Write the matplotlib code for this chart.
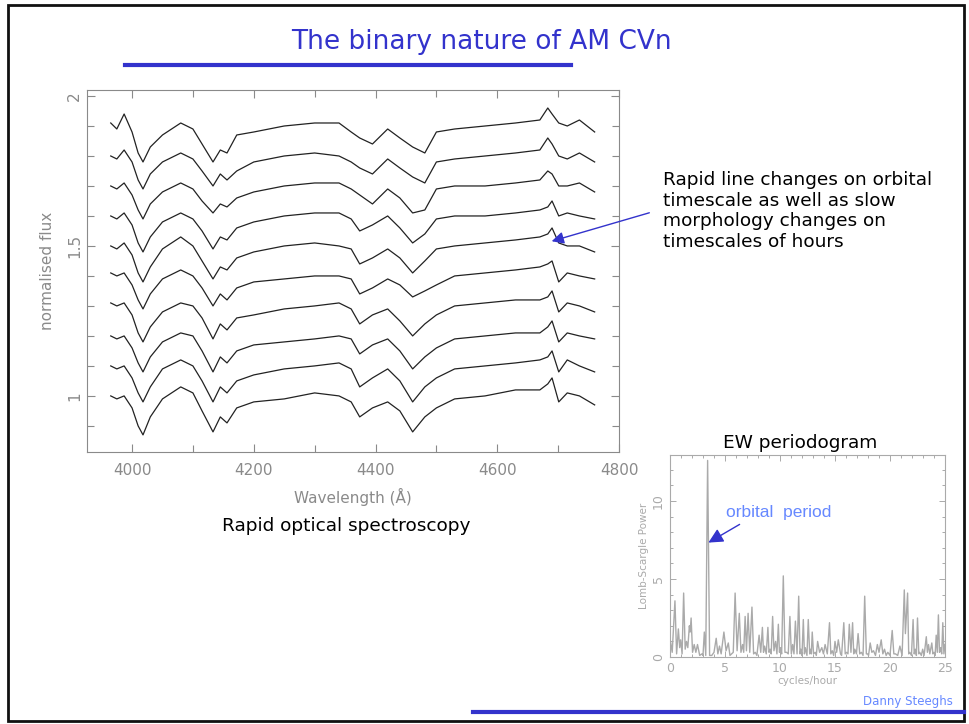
import matplotlib
matplotlib.use("Agg")
import matplotlib.pyplot as plt
from matplotlib.lines import Line2D
from matplotlib.patches import Rectangle, FancyArrowPatch
from matplotlib.ticker import MultipleLocator

W, H = 969, 724

# wavelength knots (Angstrom) shared by all spectra
wave = [3965, 3975, 3987, 4000, 4010, 4018, 4030, 4050, 4080, 4100, 4115, 4133,
        4145, 4156, 4172, 4200, 4250, 4300, 4340, 4360, 4374, 4395, 4420, 4440,
        4461, 4481, 4500, 4530, 4580, 4630, 4670, 4683, 4690, 4701, 4715, 4735, 4760]

# normalised flux, stacked spectra from bottom to top
spec_01 = [1.00, 0.99, 1.00, 0.96, 0.90, 0.87, 0.93, 0.99, 1.03, 1.01, 0.95, 0.88, 0.93,
           0.91, 0.96, 0.98, 0.99, 1.01, 1.00, 0.98, 0.93, 0.96, 0.98, 0.95, 0.88, 0.93,
           0.96, 0.99, 1.00, 1.02, 1.02, 1.04, 1.06, 0.98, 1.01, 1.00, 0.97]
spec_02 = [1.10, 1.09, 1.10, 1.06, 1.01, 0.98, 1.03, 1.09, 1.12, 1.10, 1.05, 0.98, 1.03,
           1.01, 1.05, 1.07, 1.09, 1.10, 1.11, 1.09, 1.03, 1.06, 1.09, 1.05, 0.98, 1.03,
           1.06, 1.09, 1.10, 1.11, 1.12, 1.13, 1.15, 1.08, 1.12, 1.10, 1.08]
spec_03 = [1.20, 1.19, 1.20, 1.16, 1.11, 1.08, 1.13, 1.18, 1.21, 1.20, 1.15, 1.08, 1.13,
           1.11, 1.15, 1.17, 1.18, 1.19, 1.20, 1.19, 1.14, 1.17, 1.19, 1.15, 1.09, 1.13,
           1.16, 1.19, 1.20, 1.21, 1.21, 1.23, 1.25, 1.18, 1.21, 1.20, 1.19]
spec_04 = [1.31, 1.30, 1.31, 1.27, 1.21, 1.18, 1.23, 1.28, 1.31, 1.30, 1.26, 1.19, 1.24,
           1.22, 1.26, 1.27, 1.29, 1.30, 1.31, 1.29, 1.24, 1.27, 1.29, 1.25, 1.20, 1.24,
           1.27, 1.30, 1.31, 1.32, 1.32, 1.33, 1.35, 1.28, 1.31, 1.30, 1.28]
spec_05 = [1.41, 1.40, 1.41, 1.37, 1.32, 1.29, 1.34, 1.39, 1.42, 1.40, 1.36, 1.30, 1.34,
           1.32, 1.36, 1.38, 1.39, 1.40, 1.40, 1.39, 1.34, 1.36, 1.39, 1.37, 1.33, 1.35,
           1.37, 1.40, 1.41, 1.42, 1.43, 1.44, 1.45, 1.38, 1.41, 1.40, 1.39]
spec_06 = [1.50, 1.49, 1.51, 1.47, 1.41, 1.38, 1.43, 1.49, 1.53, 1.50, 1.45, 1.39, 1.43,
           1.42, 1.46, 1.48, 1.50, 1.51, 1.50, 1.49, 1.44, 1.46, 1.49, 1.46, 1.41, 1.45,
           1.49, 1.50, 1.51, 1.52, 1.53, 1.54, 1.56, 1.51, 1.50, 1.50, 1.48]
spec_07 = [1.60, 1.59, 1.61, 1.57, 1.51, 1.48, 1.53, 1.58, 1.61, 1.59, 1.55, 1.49, 1.53,
           1.52, 1.56, 1.58, 1.60, 1.61, 1.61, 1.59, 1.55, 1.57, 1.60, 1.56, 1.51, 1.54,
           1.59, 1.60, 1.60, 1.61, 1.62, 1.63, 1.65, 1.60, 1.61, 1.60, 1.59]
spec_08 = [1.70, 1.69, 1.71, 1.67, 1.62, 1.59, 1.64, 1.68, 1.71, 1.69, 1.65, 1.61, 1.64,
           1.63, 1.66, 1.68, 1.70, 1.71, 1.71, 1.69, 1.67, 1.64, 1.69, 1.66, 1.61, 1.62,
           1.69, 1.70, 1.70, 1.71, 1.72, 1.75, 1.74, 1.70, 1.70, 1.71, 1.68]
spec_09 = [1.80, 1.79, 1.82, 1.78, 1.72, 1.69, 1.74, 1.78, 1.81, 1.79, 1.75, 1.70, 1.74,
           1.72, 1.75, 1.78, 1.80, 1.81, 1.80, 1.78, 1.76, 1.74, 1.79, 1.76, 1.73, 1.71,
           1.78, 1.79, 1.80, 1.81, 1.82, 1.86, 1.84, 1.80, 1.79, 1.81, 1.78]
spec_10 = [1.91, 1.89, 1.94, 1.88, 1.81, 1.78, 1.83, 1.87, 1.91, 1.89, 1.84, 1.78, 1.82,
           1.81, 1.87, 1.88, 1.90, 1.91, 1.91, 1.88, 1.86, 1.84, 1.89, 1.86, 1.83, 1.81,
           1.88, 1.89, 1.90, 1.91, 1.92, 1.96, 1.94, 1.91, 1.90, 1.92, 1.88]
spectra = [spec_01, spec_02, spec_03, spec_04, spec_05,
           spec_06, spec_07, spec_08, spec_09, spec_10]

# EW Lomb-Scargle periodogram
freq = [0.0, 0.2, 0.45, 0.6, 0.76, 0.88, 0.97, 1.1, 1.24, 1.38, 1.5, 1.62, 1.76, 1.83, 1.92,
        2.05, 2.2, 2.35, 2.5, 2.7, 2.9, 3.0, 3.12, 3.25, 3.42, 3.6, 3.8, 4.0, 4.2, 4.35,
        4.5, 4.65, 4.9, 5.1, 5.3, 5.45, 5.6, 5.75, 5.92, 6.1, 6.3, 6.45, 6.6, 6.7, 6.83,
        6.95, 7.1, 7.25, 7.45, 7.6, 7.75, 7.9, 8.1, 8.25, 8.4, 8.5, 8.6, 8.75, 8.9, 9.0,
        9.1, 9.2, 9.33, 9.45, 9.6, 9.72, 9.85, 9.95, 10.05, 10.15, 10.3, 10.45, 10.6,
        10.75, 10.9, 11.03, 11.15, 11.27, 11.4, 11.55, 11.7, 11.82, 11.9, 12.0, 12.12,
        12.22, 12.3, 12.45, 12.57, 12.7, 12.8, 12.85, 12.93, 13.05, 13.2, 13.3, 13.42,
        13.6, 13.8, 13.95, 14.1, 14.3, 14.5, 14.62, 14.75, 14.88, 15.0, 15.15, 15.3,
        15.5, 15.6, 15.8, 15.93, 16.06, 16.18, 16.3, 16.45, 16.6, 16.7, 16.8, 16.95,
        17.1, 17.25, 17.4, 17.55, 17.7, 17.85, 17.97, 18.05, 18.2, 18.35, 18.5, 18.68,
        18.85, 19.0, 19.2, 19.35, 19.5, 19.65, 19.8, 20.0, 20.2, 20.35, 20.5, 20.7,
        20.9, 21.1, 21.3, 21.4, 21.6, 21.7, 21.8, 21.95, 22.1, 22.2, 22.3, 22.4, 22.5,
        22.62, 22.7, 22.85, 22.97, 23.1, 23.3, 23.4, 23.5, 23.62, 23.8, 23.9, 24.0,
        24.1, 24.2, 24.3, 24.4, 24.5, 24.6, 24.7, 24.8, 24.9, 25.0]
power = [1.2, 0.3, 3.6, 0.2, 1.8, 0.6, 1.1, 0.2, 4.1, 0.5, 1.0, 0.6, 2.0, 1.6, 2.5,
         0.3, 0.8, 0.3, 0.8, 0.1, 0.2, 0.1, 1.6, 0.1, 12.6, 0.1, 0.1, 0.3, 1.2, 0.2,
         0.7, 0.2, 1.6, 0.4, 0.9, 0.1, 0.2, 0.3, 4.1, 0.4, 2.8, 0.3, 0.8, 0.3, 2.6,
         0.4, 2.8, 0.3, 3.2, 0.2, 0.3, 0.1, 1.4, 0.3, 1.9, 0.3, 0.7, 0.2, 1.9, 0.3,
         0.5, 0.2, 2.6, 0.4, 1.0, 0.2, 2.1, 0.3, 0.6, 0.2, 5.2, 0.3, 0.3,
         0.2, 2.6, 0.2, 0.8, 0.2, 2.3, 0.2, 3.9, 0.2, 0.5, 0.1, 2.4,
         0.2, 0.6, 0.1, 2.4, 0.2, 0.5, 0.2, 1.6, 0.2, 0.3, 0.1, 1.0,
         0.3, 0.6, 0.2, 0.8, 0.2, 2.2, 0.2, 0.4, 0.1, 1.0, 0.3, 1.1,
         0.2, 0.1, 2.2, 0.2, 0.3, 0.2, 2.1, 0.3, 2.2, 0.2, 0.5, 0.2,
         1.5, 0.2, 0.3, 0.1, 3.9, 0.2, 0.2, 0.1, 0.9, 0.3, 0.4, 0.1,
         0.8, 0.3, 1.1, 0.2, 0.5, 0.1, 0.3, 0.1, 1.7, 0.2, 0.2, 0.1,
         0.7, 0.1, 4.3, 1.5, 4.1, 0.2, 0.3, 0.1, 2.4, 0.2, 0.5, 0.1, 2.5,
         0.2, 0.3, 0.1, 0.5, 0.1, 1.3, 0.3, 0.8, 0.2, 0.9, 0.2, 0.3,
         0.1, 1.4, 0.3, 2.7, 0.3, 0.6, 0.2, 2.2, 0.2, 0.8]

BLUE = "#3333cc"
LIGHT_BLUE = "#6688ff"
GREY = "#8a8a8a"
LGREY = "#aaaaaa"


def px(x, y):
    # pixel position -> figure fraction
    return x / W, 1 - y / H


def box(x0, y0, x1, y1):
    return [x0 / W, 1 - y1 / H, (x1 - x0) / W, (y1 - y0) / H]


fig = plt.figure(figsize=(W / 100, H / 100), dpi=100)
fig.patch.set_facecolor("white")

# slide frame
fig.patches.append(Rectangle(px(8, 721), 956 / W, 716 / H, transform=fig.transFigure,
                             fill=False, edgecolor="#111111", linewidth=2))

# title and rules
fig.text(*px(481, 42), "The binary nature of AM CVn", color=BLUE, fontsize=19,
         ha="center", va="center")
fig.lines.append(Line2D([125 / W, 571 / W], [1 - 65 / H] * 2, color=BLUE, lw=3,
                        transform=fig.transFigure))
fig.lines.append(Line2D([473 / W, 964 / W], [1 - 712 / H] * 2, color=BLUE, lw=3,
                        transform=fig.transFigure))
fig.text(*px(953, 702), "Danny Steeghs", color=LIGHT_BLUE, fontsize=8.5,
         ha="right", va="center")

# trailed spectra
ax = fig.add_axes(box(87, 90, 619, 452))
for s in spectra:
    ax.plot(wave, s, color="#222222", lw=0.9)
ax.set_xlim(3926, 4800)
ax.set_ylim(0.813, 2.02)
ax.xaxis.set_major_locator(MultipleLocator(200))
ax.xaxis.set_minor_locator(MultipleLocator(100))
ax.yaxis.set_minor_locator(MultipleLocator(0.1))
ax.set_yticks([1, 1.5, 2])
ax.set_yticklabels(["1", "1.5", "2"], rotation=90, va="center")
ax.tick_params(which="both", direction="in", top=True, right=True, color=GREY,
               labelcolor=GREY, labelsize=11, width=0.8)
ax.tick_params(which="major", length=6)
ax.tick_params(which="minor", length=5)
ax.tick_params(axis="x", pad=8)
for sp in ax.spines.values():
    sp.set_color(GREY)
ax.set_xlabel("Wavelength (Å)", color=GREY, fontsize=11, labelpad=7)
ax.set_ylabel("normalised flux", color=GREY, fontsize=11, labelpad=9)

fig.text(*px(346, 526), "Rapid optical spectroscopy", fontsize=13.3, ha="center",
         va="center")
fig.text(*px(663, 211), "Rapid line changes on orbital\ntimescale as well as slow\n"
         "morphology changes on\ntimescales of hours", fontsize=13.3, ha="left",
         va="center", linespacing=1.2)
fig.patches.append(FancyArrowPatch(
    px(652, 212), px(549, 242), transform=fig.transFigure, arrowstyle="-|>",
    mutation_scale=18, color=BLUE, lw=1))

# periodogram
ax2 = fig.add_axes(box(670, 455, 945, 657))
ax2.plot(freq, power, color=LGREY, lw=1)
ax2.set_xlim(0, 25)
ax2.set_ylim(0, 12.95)
ax2.xaxis.set_major_locator(MultipleLocator(5))
ax2.xaxis.set_minor_locator(MultipleLocator(1))
ax2.yaxis.set_minor_locator(MultipleLocator(1))
ax2.set_yticks([0, 5, 10])
ax2.set_yticklabels(["0", "5", "10"], rotation=90, va="center")
ax2.tick_params(which="both", direction="in", top=True, right=True, color=LGREY,
                labelcolor=LGREY, labelsize=9, width=0.7)
ax2.tick_params(which="major", length=4)
ax2.tick_params(which="minor", length=2.5)
for sp in ax2.spines.values():
    sp.set_color(LGREY)
ax2.set_xlabel("cycles/hour", color=LGREY, fontsize=7.5, labelpad=1)
ax2.set_ylabel("Lomb-Scargle Power", color=LGREY, fontsize=7.5, labelpad=2)

fig.text(*px(800, 443), "EW periodogram", fontsize=13.3, ha="center", va="center")
fig.text(*px(779, 512), "orbital  period", color=LIGHT_BLUE, fontsize=12.5,
         family="Liberation Sans", ha="center", va="center")
fig.patches.append(FancyArrowPatch(
    px(742, 523), px(706, 544), transform=fig.transFigure, arrowstyle="-|>",
    mutation_scale=22, color=BLUE, lw=1))

fig.savefig("out.png", dpi=100)
